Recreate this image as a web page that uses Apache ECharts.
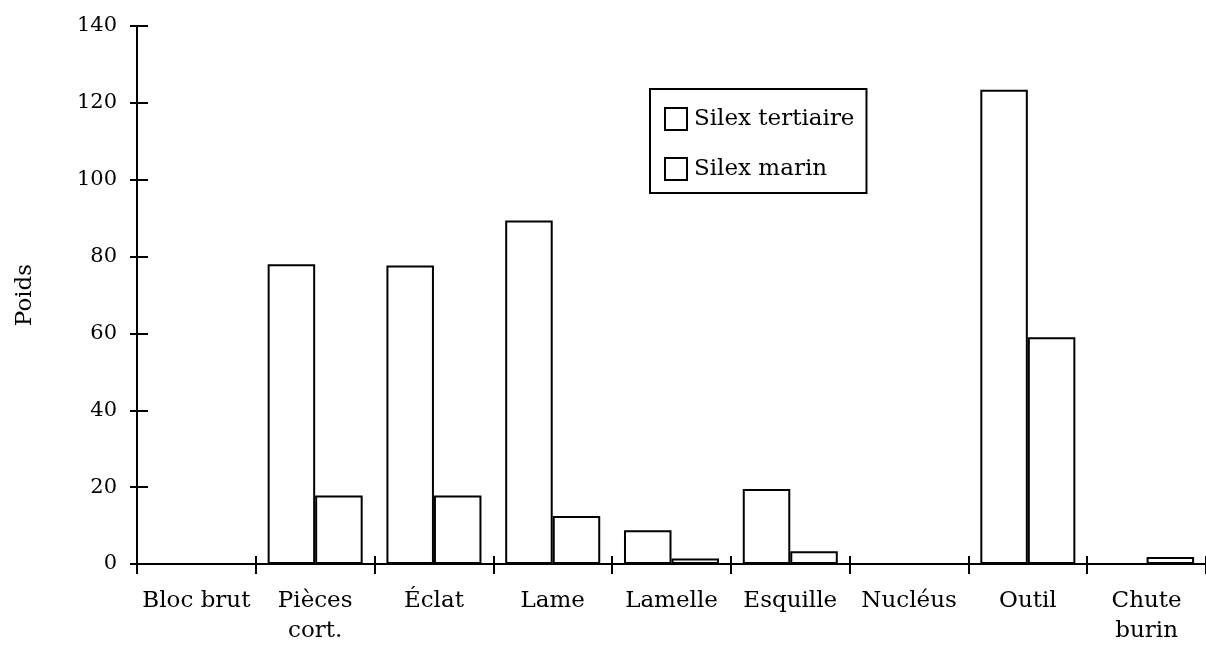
<!DOCTYPE html>
<html>
<head>
<meta charset="utf-8">
<script src="https://cdn.jsdelivr.net/npm/echarts@6/dist/echarts.min.js"></script>
<style>
html,body{margin:0;padding:0;background:#fff;}
#chart{width:1206px;height:652px;}
</style>
</head>
<body>
<div id="chart"></div>
<script>
var categories = ['Bloc brut', 'Pièces\ncort.', 'Éclat', 'Lame', 'Lamelle', 'Esquille', 'Nucléus', 'Outil', 'Chute\nburin'];
var tertiaire = [0, 78, 77.7, 89.4, 8.8, 19.5, 0, 123.4, 0];
var marin = [0, 17.8, 17.8, 12.5, 1.4, 3.3, 0, 59, 1.8];
var yTicks = [0, 20, 40, 60, 80, 100, 120, 140];

var FONT = 'DejaVu Serif';
var chart = echarts.init(document.getElementById('chart'), null, {renderer: 'canvas'});
var barStyle = {color: '#ffffff', borderColor: '#000', borderWidth: 2};
var xBase = {
  type: 'category', data: categories, position: 'bottom',
  axisLine: {show: true, onZero: false, lineStyle: {color: '#000', width: 2}},
  splitLine: {show: false}
};
var yBase = {
  type: 'value', min: yTicks[0], max: yTicks[yTicks.length - 1], interval: 20,
  axisLine: {show: true, lineStyle: {color: '#000', width: 2}},
  splitLine: {show: false}
};
chart.setOption({
  backgroundColor: '#fff',
  animation: false,
  grid: {left: 137, right: -5, top: 26, bottom: 88},
  legend: {
    orient: 'vertical', left: 650, top: 89,
    padding: [18, 12, 12, 14],
    borderColor: '#000', borderWidth: 2,
    itemWidth: 22, itemHeight: 22, itemGap: 26,
    icon: 'rect',
    itemStyle: {color: '#fff', borderColor: '#000', borderWidth: 2},
    textStyle: {fontFamily: FONT, fontSize: 23, color: '#000', padding: [0, 0, 0, 2]},
    data: ['Silex tertiaire', 'Silex marin']
  },
  xAxis: [
    Object.assign({}, xBase, {
      axisTick: {show: true, interval: 0, length: 10, lineStyle: {color: '#000', width: 2}},
      axisLabel: {interval: 0, fontFamily: FONT, fontSize: 23, color: '#000', margin: 22, lineHeight: 30}
    }),
    Object.assign({}, xBase, {
      axisTick: {show: true, interval: 0, inside: true, length: 8, lineStyle: {color: '#000', width: 2}},
      axisLabel: {show: false}
    })
  ],
  yAxis: [
    Object.assign({}, yBase, {
      name: 'Poids', nameLocation: 'middle', nameGap: 100, nameRotate: 90,
      nameTextStyle: {fontFamily: FONT, fontSize: 23, color: '#000'},
      axisTick: {show: true, length: 7, lineStyle: {color: '#000', width: 2}},
      axisLabel: {fontFamily: FONT, fontSize: 21, color: '#000', margin: 20}
    }),
    Object.assign({}, yBase, {
      position: 'left',
      axisTick: {show: true, inside: true, length: 11, lineStyle: {color: '#000', width: 2}},
      axisLabel: {show: false}
    })
  ],
  series: [
    {name: 'Silex tertiaire', type: 'bar', data: tertiaire, barGap: '0%', barCategoryGap: '20%', itemStyle: barStyle, xAxisIndex: 0, yAxisIndex: 0},
    {name: 'Silex marin', type: 'bar', data: marin, barGap: '0%', barCategoryGap: '20%', itemStyle: barStyle, xAxisIndex: 0, yAxisIndex: 0}
  ]
});
</script>
</body>
</html>
